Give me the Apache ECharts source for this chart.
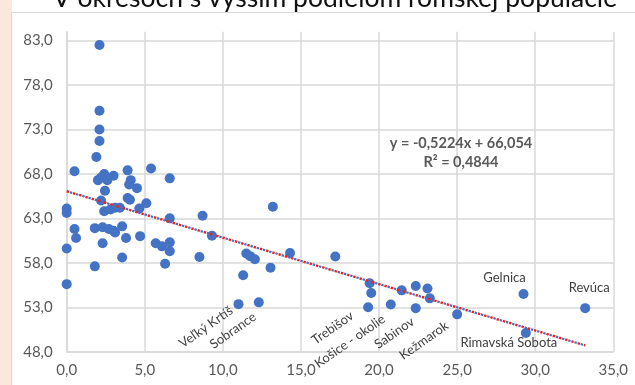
<!DOCTYPE html>
<html><head><meta charset="utf-8">
<script src="https://cdn.jsdelivr.net/npm/echarts@6/dist/echarts.min.js"></script>
<style>
html,body{margin:0;padding:0;width:635px;height:385px;overflow:hidden;background:#fff;}
#strip{position:absolute;left:0;top:0;width:12px;height:385px;background:#fbe8dc;}
#frame{position:absolute;left:11px;top:12px;width:700px;height:400px;background:#fff;border:1px solid #d9d9d9;box-sizing:border-box;}
#chart{position:absolute;left:0;top:0;width:635px;height:385px;}
</style></head>
<body><div id="strip"></div><div id="frame"></div><div id="chart"></div>
<script>
// ---- data ----
const xValues = [2.1, 2.1, 2.1, 2.1, 1.9, 0.5, 3.9, 5.4, 6.6, 2.4,
  2.0, 2.2, 2.6, 3.0, 4.1, 4.0, 4.5, 2.45, 2.2, 3.9,
  4.05, 5.1, 0.0, 0.0, 2.4, 2.8, 3.1, 3.4, 4.65, 6.6,
  8.7, 13.2, 0.5, 0.6, 1.8, 2.3, 2.7, 3.0, 3.1, 3.55,
  3.8, 4.7, 2.3, 0.0, 5.7, 6.1, 6.6, 6.6, 9.3, 3.55,
  1.8, 6.3, 8.5, 0.0, 11.5, 11.75, 12.05, 11.3, 13.05, 14.3,
  11.0, 12.3, 17.2, 19.4, 19.5, 19.3, 20.75, 21.45, 22.35, 22.35,
  23.1, 23.25, 25.0, 29.25, 29.4, 33.2];
const yValues = [82.5, 75.1, 73.0, 71.7, 69.9, 68.3, 68.4, 68.6, 67.5, 68.0,
  67.3, 67.6, 67.3, 67.8, 67.3, 66.8, 66.4, 66.1, 65.0, 65.3,
  65.1, 64.7, 64.1, 63.6, 63.8, 64.0, 64.2, 64.2, 64.1, 63.0,
  63.3, 64.3, 61.8, 60.8, 61.9, 62.0, 61.8, 61.6, 61.4, 62.1,
  60.8, 61.0, 60.2, 59.6, 60.2, 59.85, 60.3, 59.3, 61.05, 58.6,
  57.6, 57.9, 58.65, 55.6, 59.05, 58.75, 58.4, 56.6, 57.45, 59.1,
  53.35, 53.55, 58.7, 55.7, 54.6, 53.0, 53.3, 54.9, 55.4, 52.9,
  55.1, 54.0, 52.2, 54.5, 50.1, 52.9];
const pointNames = ['', '', '', '', '', '', '', '', '', '',
  '', '', '', '', '', '', '', '', '', '',
  '', '', '', '', '', '', '', '', '', '',
  '', '', '', '', '', '', '', '', '', '',
  '', '', '', '', '', '', '', '', '', '',
  '', '', '', '', '', '', '', '', '', '',
  'Veľký Krtíš', 'Sobrance', '', '', '', 'Trebišov', 'Košice - okolie', '', '', 'Sabinov',
  '', '', 'Kežmarok', 'Gelnica', 'Rimavská Sobota', 'Revúca'];
const xTicks = [0, 5, 10, 15, 20, 25, 30, 35];
const yTicks = [48, 53, 58, 63, 68, 73, 78, 83];
const trendX = [0, 33.2];
const trendY = [66.05, 48.71];
const titleText = 'V okresoch s vyšším podielom rómskej populácie';
const equationText = 'y = -0,5224x + 66,054';
const r2Text = 'R² = 0,4844';

// ---- label placement (styles) ----
const FONT = 'Lato';
const labelPlacement = {
  'Veľký Krtíš':      {dx: -7,  dy: 5,   rot: 35},
  'Sobrance':         {dx: -4,  dy: 13,  rot: 35},
  'Trebišov':         {dx: -16, dy: 7,   rot: 35},
  'Košice - okolie':  {dx: -7,  dy: 13,  rot: 35},
  'Sabinov':          {dx: -3,  dy: 12,  rot: 35},
  'Kežmarok':         {dx: -10, dy: 10,  rot: 35},
  'Gelnica':          {dx: -19, dy: -16, rot: 0},
  'Revúca':           {dx: 4,   dy: -20, rot: 0},
  'Rimavská Sobota':  {dx: -17, dy: 10,  rot: 0}
};
const SYM = 10;
const fmt = v => v.toFixed(1).replace('.', ',');

const scatterData = xValues.map((x, i) => {
  const name = pointNames[i];
  const d = {value: [x, yValues[i]], name: name};
  if (name && labelPlacement[name]) {
    const p = labelPlacement[name];
    d.label = {
      show: true,
      formatter: name,
      position: [SYM / 2 + p.dx, SYM / 2 + p.dy],
      align: p.rot ? 'right' : 'center',
      verticalAlign: 'middle',
      rotate: p.rot,
      color: '#404040',
      fontSize: 13,
      fontFamily: FONT
    };
  }
  return d;
});

const chart = echarts.init(document.getElementById('chart'), null, {renderer: 'canvas'});
const gridColor = '#d9d9d9';
chart.setOption({
  animation: false,
  backgroundColor: 'transparent',
  grid: {left: 66.7, right: 21.7, top: 31.7, bottom: 33.3, outerBoundsMode: 'none', containLabel: false},
  xAxis: {
    type: 'value', min: 0, max: 35, interval: 5,
    axisLine: {show: true, lineStyle: {color: gridColor, width: 1.5}},
    axisTick: {show: false},
    splitLine: {show: true, lineStyle: {color: gridColor, width: 1.5}},
    axisLabel: {formatter: fmt, color: '#595959', fontSize: 15, fontFamily: FONT, margin: 11}
  },
  yAxis: {
    type: 'value', min: 48, max: 84,
    axisLine: {show: true, lineStyle: {color: gridColor, width: 1.5}},
    axisTick: {show: false, customValues: yTicks},
    splitLine: {show: true, lineStyle: {color: gridColor, width: 1.5}},
    axisLabel: {customValues: yTicks, formatter: fmt, color: '#595959', fontSize: 15, fontFamily: FONT, margin: 14}
  },
  graphic: [
    {type: 'text', x: 335, y: -1.2, style: {text: titleText, fill: '#111', font: '26.5px ' + FONT, align: 'center', verticalAlign: 'middle'}},
    {type: 'text', x: 461, y: 143.3, style: {text: equationText, fill: '#595959', font: 'bold 14.5px ' + FONT, align: 'center', verticalAlign: 'middle'}, z: 10},
    {type: 'text', x: 461, y: 162.3, style: {text: r2Text, fill: '#595959', font: 'bold 14.5px ' + FONT, align: 'center', verticalAlign: 'middle'}, z: 10}
  ],
  series: [
    {
      type: 'scatter', data: scatterData, symbol: 'circle', symbolSize: SYM,
      itemStyle: {color: '#4472C4', opacity: 1},
      label: {show: false},
      emphasis: {disabled: true}, z: 2
    },
    {
      type: 'line', data: trendX.map((x, i) => [x, trendY[i]]), symbol: 'none', silent: true,
      lineStyle: {color: '#4472C4', width: 2.2, type: [2.4, 4.1], dashOffset: 3.25},
      z: 3
    },
    {
      type: 'line', data: trendX.map((x, i) => [x, trendY[i]]), symbol: 'none', silent: true,
      lineStyle: {color: '#ff1a1a', width: 2.4, type: [2.4, 4.1], dashOffset: 0},
      z: 4
    }
  ]
});
</script></body></html>
